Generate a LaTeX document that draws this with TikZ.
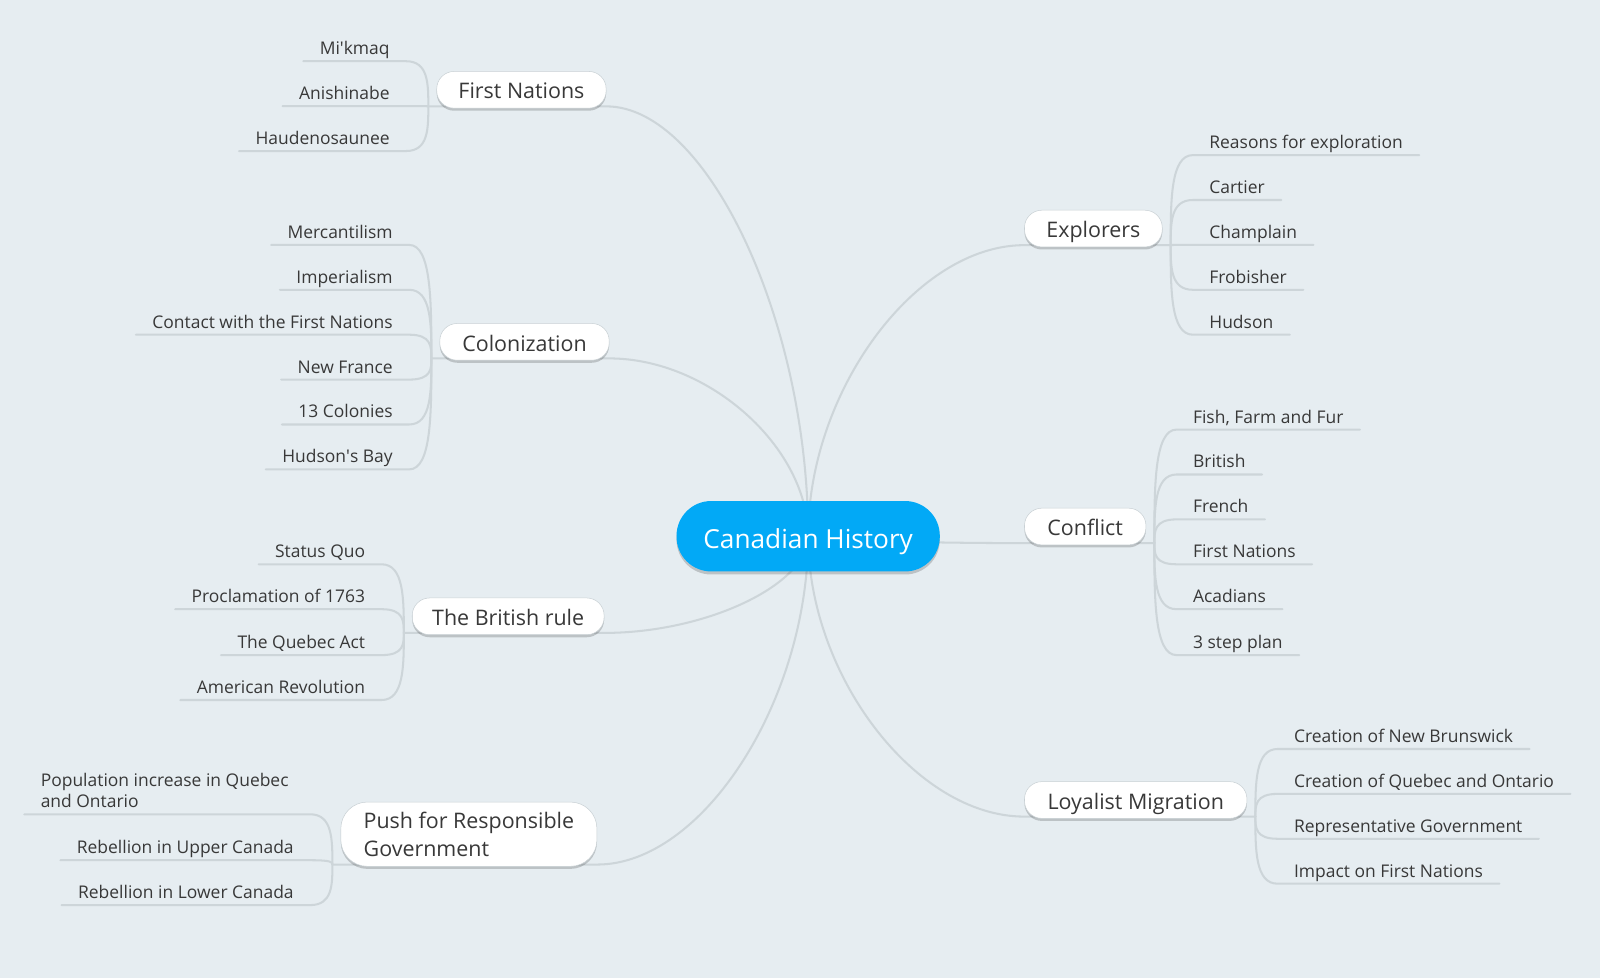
\documentclass[tikz,border=0pt]{standalone}
\usepackage{fontspec}
\setmainfont{Open Sans}
\usetikzlibrary{calc,shadows}
\definecolor{bgc}{HTML}{E6EDF1}
\definecolor{lnc}{HTML}{CDD5D9}
\definecolor{txc}{HTML}{383838}
\definecolor{hubc}{HTML}{02A9F6}
\definecolor{pbc}{HTML}{C8D0D4}
\pgfdeclarelayer{bglayer}
\pgfdeclarelayer{linelayer}
\pgfsetlayers{bglayer,linelayer,main}
\tikzset{
  branch/.style={draw=lnc, line width=2pt, line cap=round},
  leafL/.style={font=\fontsize{17.1}{21}\selectfont, text=txc, text depth=0pt, inner xsep=16pt, inner ysep=6.2pt, anchor=south east},
  leafR/.style={leafL, anchor=south west},
  topicbox/.style={fill=white, draw=pbc, line width=0.5pt, rounded corners=17pt, minimum height=36pt, inner xsep=8pt, font=\fontsize{21}{27}\selectfont, text=txc, drop shadow={shadow xshift=0pt, shadow yshift=-2.5pt, opacity=0.18, fill=black}},
  topic/.style={topicbox, text height=18pt, text depth=0pt},
  hubnode/.style={fill=hubc, rounded corners=34pt, minimum height=69pt, minimum width=258pt, font=\fontsize{25.7}{30}\selectfont, text=white, text height=25pt, text depth=0pt, drop shadow={shadow xshift=0pt, shadow yshift=-3pt, opacity=0.18, fill=black}},
}
\newcommand{\leafleft}[5]{%
  \node[leafL] (#1) at (#3,#4) {#5};
  \begin{pgfonlayer}{linelayer}
  \draw[branch] (#2) .. controls ($(#2)!0.5!(#2|-#1.south east)$) and (#2|-#1.south east) .. (#1.south east) -- (#1.south west);
  \end{pgfonlayer}
}
\newcommand{\leafright}[5]{%
  \node[leafR] (#1) at (#3,#4) {#5};
  \begin{pgfonlayer}{linelayer}
  \draw[branch] (#2) .. controls ($(#2)!0.5!(#2|-#1.south west)$) and (#2|-#1.south west) .. (#1.south west) -- (#1.south east);
  \end{pgfonlayer}
}
\newcommand{\mainlink}[3]{% hub point, near anchor, far anchor
  \begin{pgfonlayer}{linelayer}
  \draw[branch] (#1) .. controls ($(#1)!0.5!(#1|-#2)$) and ($(#2)!0.5!(#2-|#1)$) .. (#2) -- (#3);
  \end{pgfonlayer}
}
\begin{document}
\begin{tikzpicture}[x=1pt,y=1pt]
\begin{pgfonlayer}{bglayer}
\fill[bgc] (0,0) rectangle (1568,-958);
\end{pgfonlayer}
\useasboundingbox (0,0) rectangle (1568,-958);

% central topic
\node[hubnode] (hub) at (792,-525.5) {Canadian History};
\coordinate (C) at (hub.center);

% main topics
\node[topic, minimum width=166pt] (fn) at (511,-88) {First Nations};
\node[topic, minimum width=166pt] (co) at (514,-335) {Colonization};
\node[topic, minimum width=188pt] (br) at (498,-604) {The British rule};
\node[topicbox, minimum width=251pt, minimum height=63pt, rounded corners=26pt, align=left] (pu) at (459.5,-817.5) {Push for Responsible\\Government};
\node[topic, minimum width=135pt] (ex) at (1071.5,-224) {Explorers};
\node[topic, minimum width=119pt] (cf) at (1063.5,-516) {Conflict};
\node[topic, minimum width=218pt] (lo) at (1113,-784) {Loyalist Migration};

% anchors of the topics
\coordinate (fnR) at ($(fn.south east)+(0,2)$);
\coordinate (fnL) at ($(fn.south west)+(-8,2)$);
\coordinate (coR) at ($(co.south east)+(0,2)$);
\coordinate (coL) at ($(co.south west)+(-8,2)$);
\coordinate (brR) at ($(br.south east)+(0,2)$);
\coordinate (brL) at ($(br.south west)+(-8,2)$);
\coordinate (puR) at ($(pu.south east)+(0,2)$);
\coordinate (puL) at ($(pu.south west)+(-8,2)$);
\coordinate (exL) at ($(ex.south west)+(0,2)$);
\coordinate (exR) at ($(ex.south east)+(8,2)$);
\coordinate (cfL) at ($(cf.south west)+(0,2)$);
\coordinate (cfR) at ($(cf.south east)+(8,2)$);
\coordinate (loL) at ($(lo.south west)+(0,2)$);
\coordinate (loR) at ($(lo.south east)+(8,2)$);

% links from the centre
\mainlink{C}{fnR}{fnL}
\mainlink{C}{coR}{coL}
\mainlink{C}{brR}{brL}
\mainlink{C}{puR}{puL}
\mainlink{C}{exL}{exR}
\mainlink{C}{cfL}{cfR}
\mainlink{C}{loL}{loR}

% First Nations
\leafleft{fn1}{fnL}{398}{-60}{Mi\textquotesingle kmaq}
\leafleft{fn2}{fnL}{398}{-104}{Anishinabe}
\leafleft{fn3}{fnL}{398}{-148}{Haudenosaunee}

% Colonization
\leafleft{co1}{coL}{401}{-240}{Mercantilism}
\leafleft{co2}{coL}{401}{-284}{Imperialism}
\leafleft{co3}{coL}{401}{-328}{Contact with the First Nations}
\leafleft{co4}{coL}{401}{-372}{New France}
\leafleft{co5}{coL}{401}{-416}{13 Colonies}
\leafleft{co6}{coL}{401}{-460}{Hudson\textquotesingle s Bay}

% The British rule
\leafleft{br1}{brL}{374}{-553}{Status Quo}
\leafleft{br2}{brL}{374}{-597}{Proclamation of 1763}
\leafleft{br3}{brL}{374}{-642}{The Quebec Act}
\leafleft{br4}{brL}{374}{-686}{American Revolution}

% Push for Responsible Government
\leafleft{pu1}{puL}{304}{-798}{\begin{tabular}[b]{@{}l@{\hspace{5pt}}}Population increase in Quebec\\and Ontario\end{tabular}}
\leafleft{pu2}{puL}{304}{-843}{Rebellion in Upper Canada}
\leafleft{pu3}{puL}{304}{-887}{Rebellion in Lower Canada}

% Explorers
\leafright{ex1}{exR}{1169}{-152}{Reasons for exploration}
\leafright{ex2}{exR}{1169}{-196}{Cartier}
\leafright{ex3}{exR}{1169}{-240}{Champlain}
\leafright{ex4}{exR}{1169}{-284}{Frobisher}
\leafright{ex5}{exR}{1169}{-328}{Hudson}

% Conflict
\leafright{cf1}{cfR}{1153}{-421}{Fish, Farm and Fur}
\leafright{cf2}{cfR}{1153}{-465}{British}
\leafright{cf3}{cfR}{1153}{-509}{French}
\leafright{cf4}{cfR}{1153}{-553}{First Nations}
\leafright{cf5}{cfR}{1153}{-597}{Acadians}
\leafright{cf6}{cfR}{1153}{-642}{3 step plan}

% Loyalist Migration
\leafright{lo1}{loR}{1252}{-734}{Creation of New Brunswick}
\leafright{lo2}{loR}{1252}{-778}{Creation of Quebec and Ontario}
\leafright{lo3}{loR}{1252}{-822}{Representative Government}
\leafright{lo4}{loR}{1252}{-866}{Impact on First Nations}
\end{tikzpicture}
\end{document}
